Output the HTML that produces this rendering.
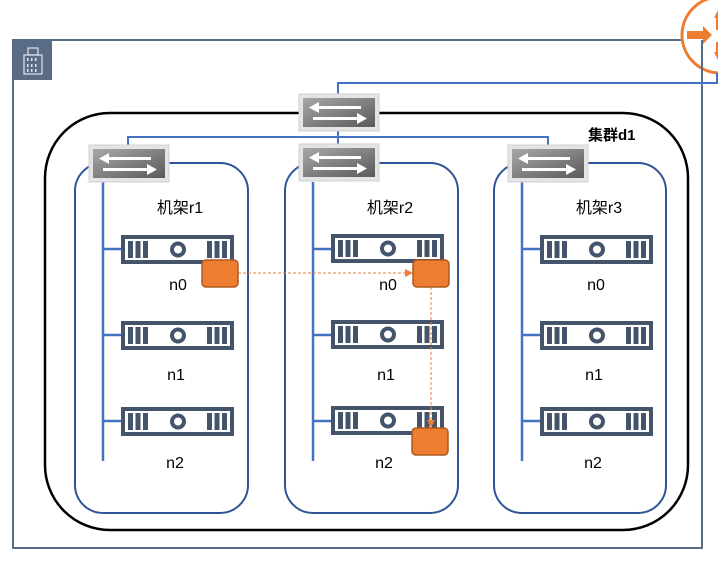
<!DOCTYPE html>
<html><head><meta charset="utf-8"><style>html,body{margin:0;padding:0;background:#fff}svg{display:block}text{font-family:"Liberation Sans","Noto Sans CJK SC",sans-serif}</style></head>
<body>
<svg width="718" height="572" viewBox="0 0 718 572" xmlns="http://www.w3.org/2000/svg">
<defs>
<linearGradient id="sg" x1="0" y1="0" x2="1" y2="1"><stop offset="0" stop-color="#a8a8a8"/><stop offset="1" stop-color="#5a5a5a"/></linearGradient>
<g id="sw">
<rect x="0" y="0" width="80" height="37" fill="#e4e4e4" stroke="#d0d0d0"/>
<rect x="4" y="4" width="72" height="29" fill="url(#sg)"/>
<path d="M18 12 H62 V15 H18 Z M10 13.5 L20 8 L20 19 Z" fill="#fff"/>
<path d="M14 23 H58 V26 H14 Z M68 24.5 L58 19 L58 30 Z" fill="#fff"/>
</g>
<g id="sv">
<rect x="0" y="0" width="113" height="29" fill="#44546a"/>
<rect x="4" y="4" width="105" height="21" fill="#fff"/>
<rect x="7" y="6" width="5" height="17" fill="#44546a"/><rect x="14.5" y="6" width="5" height="17" fill="#44546a"/><rect x="22" y="6" width="5" height="17" fill="#44546a"/>
<rect x="86" y="6" width="5" height="17" fill="#44546a"/><rect x="93.5" y="6" width="5" height="17" fill="#44546a"/><rect x="101" y="6" width="5" height="17" fill="#44546a"/>
<circle cx="57" cy="14.5" r="6" fill="none" stroke="#44546a" stroke-width="4"/>
</g>
<marker id="ar" markerWidth="8" markerHeight="8" refX="7" refY="4" orient="auto" markerUnits="userSpaceOnUse"><path d="M0 0 L8 4 L0 8 Z" fill="#ed7d31"/></marker>
</defs>
<rect x="13" y="40" width="689" height="508" fill="none" stroke="#5a6b85" stroke-width="2"/>
<rect x="13" y="40" width="39" height="40" fill="#5a6b85"/>
<g fill="none" stroke="#dfe6ee" stroke-width="1.2"><rect x="24" y="55" width="18" height="19"/><rect x="28" y="48" width="10" height="7"/></g>
<g fill="#dfe6ee"><rect x="27" y="58" width="1.5" height="3"/><rect x="31" y="58" width="1.5" height="3"/><rect x="35" y="58" width="1.5" height="3"/><rect x="27" y="64" width="1.5" height="3"/><rect x="31" y="64" width="1.5" height="3"/><rect x="35" y="64" width="1.5" height="3"/><rect x="27" y="69" width="1.5" height="3"/><rect x="31" y="69" width="1.5" height="3"/><rect x="35" y="69" width="1.5" height="3"/></g>
<circle cx="720" cy="35" r="38" fill="#fff" stroke="#ed7d31" stroke-width="3"/>
<path d="M687 31 H703 V26 L712 35 L703 44 V39 H687 Z" fill="#ed7d31"/>
<path d="M714 18 L718 10 L722 18 Z M716 18 H720 V30 H716 Z" fill="#ed7d31"/>
<path d="M714 52 L718 60 L722 52 Z M716 42 H720 V52 H716 Z" fill="#ed7d31"/>
<line x1="702" y1="40" x2="702" y2="548" stroke="#5a6b85" stroke-width="2"/>
<polyline points="717,73 717,83 338,83 338,95" fill="none" stroke="#4472c4" stroke-width="2"/>
<rect x="45" y="113" width="643" height="417" rx="65" fill="none" stroke="#000" stroke-width="2.5"/>
<text x="588" y="140" font-size="15" font-weight="bold" fill="#000">集群d1</text>
<polyline points="128,146 128,137 548,137 548,146" fill="none" stroke="#4472c4" stroke-width="2"/>
<line x1="338" y1="131" x2="338" y2="145" stroke="#4472c4" stroke-width="2"/>
<g fill="none" stroke="#2f5597" stroke-width="2">
<rect x="75" y="163" width="173" height="350" rx="28"/>
<rect x="285" y="163" width="173" height="350" rx="28"/>
<rect x="494" y="163" width="172" height="350" rx="28"/>
</g>
<g stroke="#4472c4" stroke-width="2.5" fill="none">
<path d="M103 182 V461 M103 249 H121 M103 335 H121 M103 421 H121"/>
<path d="M313 182 V461 M313 249 H331 M313 335 H331 M313 421 H331"/>
<path d="M522 182 V461 M522 249 H540 M522 335 H540 M522 421 H540"/>
</g>
<use href="#sw" x="299" y="94"/>
<use href="#sw" x="89" y="145"/>
<use href="#sw" x="299" y="144"/>
<use href="#sw" x="508" y="145"/>
<g font-size="16" fill="#000" text-anchor="middle">
<text x="180" y="213">机架r1</text><text x="390" y="213">机架r2</text><text x="599" y="213">机架r3</text>
</g>
<use href="#sv" x="121" y="235"/><use href="#sv" x="121" y="321"/><use href="#sv" x="121" y="407"/>
<use href="#sv" x="331" y="234"/><use href="#sv" x="331" y="320"/><use href="#sv" x="331" y="406"/>
<use href="#sv" x="540" y="235"/><use href="#sv" x="540" y="321"/><use href="#sv" x="540" y="407"/>
<g font-size="16" fill="#000" text-anchor="middle">
<text x="178" y="290">n0</text><text x="176" y="380">n1</text><text x="175" y="468">n2</text>
<text x="388" y="290">n0</text><text x="386" y="380">n1</text><text x="384" y="468">n2</text>
<text x="596" y="290">n0</text><text x="594" y="380">n1</text><text x="593" y="468">n2</text>
</g>
<line x1="238" y1="273" x2="412" y2="273" stroke="#ed7d31" stroke-width="1" stroke-dasharray="3,2" marker-end="url(#ar)"/>
<line x1="431" y1="287" x2="431" y2="427" stroke="#ed7d31" stroke-width="1" stroke-dasharray="3,2" marker-end="url(#ar)"/>
<g fill="#ed7d31" stroke="#ae5a21" stroke-width="1.5">
<rect x="202" y="260" width="36" height="27" rx="4"/>
<rect x="413" y="260" width="36" height="27" rx="4"/>
<rect x="412" y="428" width="36" height="27" rx="4"/>
</g>
</svg>
</body></html>
